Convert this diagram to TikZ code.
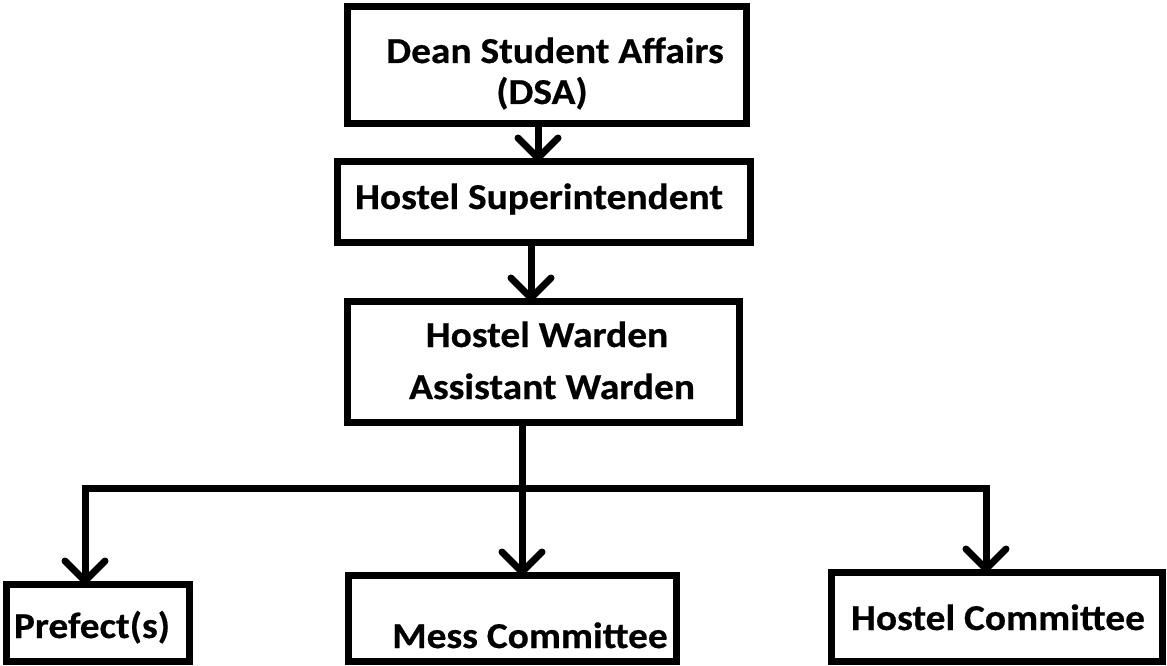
\documentclass[tikz,border=0pt]{standalone}
\usepackage{fontspec}
\newfontfamily\lblfont{Carlito}[FakeStretch=1.08,FakeBold=0.5]
\usetikzlibrary{arrows.meta}
\begin{document}
\begin{tikzpicture}[x=1pt,y=-1pt,
  box/.style={draw=black,line width=7pt,inner sep=0pt,outer sep=0pt,fill=white},
  lbl/.style={anchor=base,inner sep=0pt,font=\lblfont\bfseries\fontsize{36.5}{44}\selectfont},
  conn/.style={draw=black,line width=7pt},
  arr/.style={conn,-{Straight Barb[length=20pt,width=40pt,round]}}]
\useasboundingbox[fill=white] (0,0) rectangle (1167,666);
% boxes
\node[box,minimum width=399pt,minimum height=117pt] (dsa) at (547,65) {};
\node[box,minimum width=413pt,minimum height=81pt] (hs) at (544,202) {};
\node[box,minimum width=392pt,minimum height=121pt] (wd) at (543.5,362) {};
\node[box,minimum width=183pt,minimum height=77pt] (pre) at (98,623) {};
\node[box,minimum width=328pt,minimum height=86pt] (mess) at (512.5,618.5) {};
\node[box,minimum width=331pt,minimum height=89pt] (hc) at (997,617) {};
% texts
\node[lbl,font=\lblfont\bfseries\fontsize{36.5}{44}\selectfont] (t1a) at (555,63) {Dean Student Affairs};
\node[lbl,font=\lblfont\bfseries\fontsize{36.5}{44}\selectfont] (t1b) at (542,104) {(DSA)};
\node[lbl] (t2) at (539,209) {Hostel Superintendent};
\node[lbl] (t3a) at (547,347) {Hostel Warden};
\node[lbl] (t3b) at (552,399) {Assistant Warden};
\node[lbl] (t4) at (92,638) {Prefect(s)};
\node[lbl] (t5) at (530,648) {Mess Committee};
\node[lbl] (t6) at (998,630) {Hostel Committee};
% connectors
\coordinate (j) at (522,488);
\draw[arr] ([xshift=-9pt]dsa.south) -- ([xshift=-6pt]hs.north);
\draw[arr] ([xshift=-13pt]hs.south) -- ([xshift=-12.5pt]wd.north);
\draw[arr] (wd.south -| j) -- (mess.north -| j);
\draw[arr] (j) -| ([xshift=-13pt]pre.north);
\draw[arr] (j) -| ([xshift=-11pt]hc.north);
\end{tikzpicture}
\end{document}
